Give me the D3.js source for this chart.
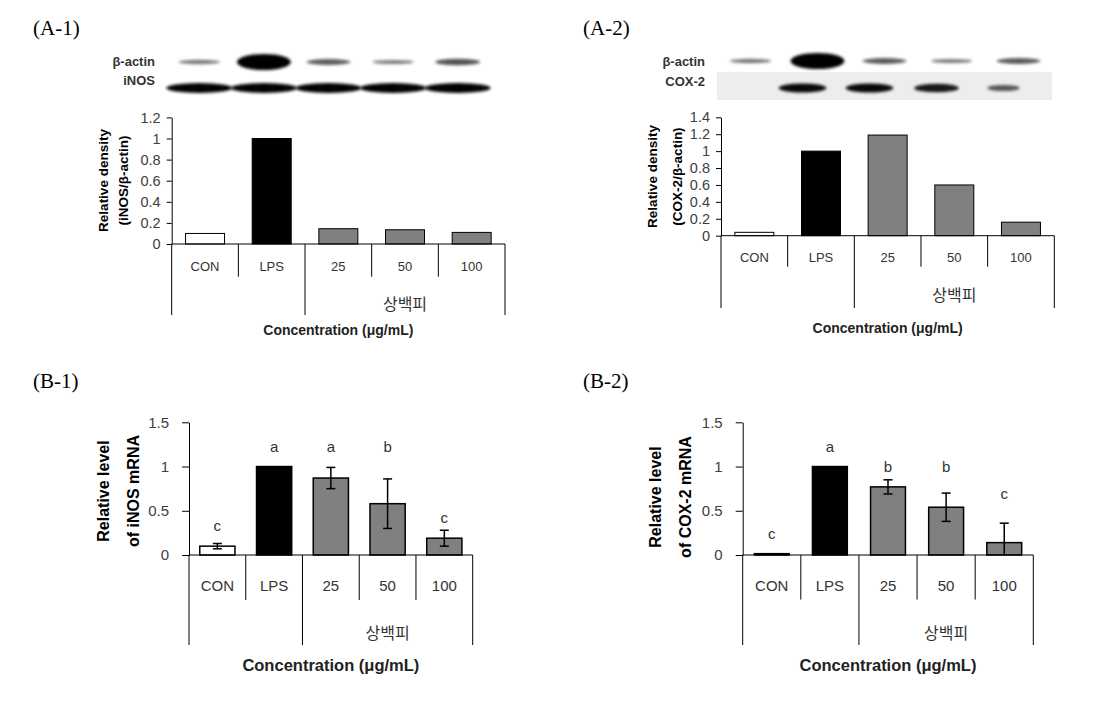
<!DOCTYPE html>
<html><head><meta charset="utf-8">
<script src="https://cdn.jsdelivr.net/npm/d3@7"></script>
<style>body{margin:0;background:#fff}svg{display:block}</style>
</head><body>
<svg id="c" width="1106" height="701"></svg>
<script>
// ---------- DATA ----------
const categories = ["CON","LPS","25","50","100"];
const groupLabel = "상백피";
const xTitleA = "Concentration (μg/mL)";
const xTitleB = "Concentration  (μg/mL)";

const a1Values = [0.10, 1.00, 0.145, 0.135, 0.11];
const a1Ticks  = [0, 0.2, 0.4, 0.6, 0.8, 1, 1.2];
const a2Values = [0.04, 1.00, 1.19, 0.60, 0.16];
const a2Ticks  = [0, 0.2, 0.4, 0.6, 0.8, 1, 1.2, 1.4];

const b1Values  = [0.10, 1.00, 0.87, 0.58, 0.19];
const b1Errors  = [0.03, 0, 0.12, 0.28, 0.09];
const b1Letters = ["c","a","a","b","c"];
const b1LetterAt= [0.33, 1.23, 1.23, 1.23, 0.42];
const b2Values  = [0.015, 1.00, 0.77, 0.54, 0.14];
const b2Errors  = [0, 0, 0.08, 0.16, 0.22];
const b2Letters = ["c","a","b","b","c"];
const b2LetterAt= [0.245, 1.23, 1.0, 1.0, 0.69];
const bTicks = [0, 0.5, 1, 1.5];

// blot band intensities (0 = no band)
const a1BlotTop    = [0.30, 1.00, 0.45, 0.28, 0.50];
const a1BlotBottom = [0.92, 0.92, 0.92, 0.92, 0.92];
const a2BlotTop    = [0.30, 1.00, 0.45, 0.28, 0.45];
const a2BlotBottom = [0, 0.88, 0.88, 0.80, 0.45];

const fillColors = ["#ffffff","#000000","#808080","#808080","#808080"];

// ---------- DRAW ----------
const svg = d3.select("#c");
const defs = svg.append("defs");
defs.append("filter").attr("id","blur").attr("x","-50%").attr("y","-100%").attr("width","200%").attr("height","300%")
  .append("feGaussianBlur").attr("stdDeviation",1.6);

const sans = "'Liberation Sans', Arial, sans-serif";
const kr = "'Noto Sans CJK KR', sans-serif";
const serif = "'Liberation Serif', 'DejaVu Serif', serif";

function panelTitle(t,x,y){
  svg.append("text").attr("x",x).attr("y",y).attr("font-family",serif).attr("font-size",21)
    .attr("dominant-baseline","central").attr("fill","#000").text(t);
}
panelTitle("(A-1)",33,28);
panelTitle("(A-2)",583,28);
panelTitle("(B-1)",33,381);
panelTitle("(B-2)",583,381);

function drawBlot(cfg){
  const g = svg.append("g");
  const x = d3.scaleBand().domain(categories).range([cfg.x0,cfg.x1]);
  if (cfg.bg) g.append("rect").attr("x",cfg.x0).attr("y",cfg.bg[0]).attr("width",cfg.x1-cfg.x0)
      .attr("height",cfg.bg[1]-cfg.bg[0]).attr("fill","#ededed");
  cfg.rows.forEach(r=>{
    g.append("text").attr("x",cfg.labelX).attr("y",r.labelY).attr("text-anchor","end")
      .attr("dominant-baseline","central").attr("font-family",sans).attr("font-size",13)
      .attr("font-weight","bold").attr("fill","#333").text(r.label);
    g.selectAll(null).data(r.values.map((v,i)=>({v,c:categories[i]}))).enter()
      .filter(d=>d.v>0)
      .append("ellipse")
      .attr("cx",d=>x(d.c)+x.bandwidth()/2 + (r.dx||0))
      .attr("cy",r.y)
      .attr("rx",d=>r.rx(d.v))
      .attr("ry",d=>r.ry(d.v))
      .attr("fill","#000")
      .attr("opacity",d=>Math.min(1,0.3+0.75*d.v))
      .attr("filter","url(#blur)");
  });
}

drawBlot({x0:167,x1:490,labelX:155,rows:[
  {label:"β-actin",labelY:61,y:62,values:a1BlotTop,rx:v=>18+9*v,ry:v=>1.6+6.4*v*v},
  {label:"iNOS",labelY:80,y:88,values:a1BlotBottom,rx:v=>33,ry:v=>5}
]});
drawBlot({x0:717,x1:1052,labelX:705,bg:[72,100],rows:[
  {label:"β-actin",labelY:61,y:61,values:a2BlotTop,rx:v=>18+9*v,ry:v=>1.6+6.4*v*v},
  {label:"COX-2",labelY:81,y:88,dx:-15,values:a2BlotBottom,rx:v=>8+18*v,ry:v=>1.5+3.5*v}
]});

function drawBars(cfg){
  const g = svg.append("g");
  const x = d3.scaleBand().domain(categories).range([cfg.x0,cfg.x1]);
  const y = d3.scaleLinear().domain([0,cfg.ticks[cfg.ticks.length-1]]).range([cfg.y0,cfg.yTop]);
  const bw = x.bandwidth()*cfg.barFrac;
  g.selectAll(null).data(cfg.values.map((v,i)=>({v,c:categories[i],i}))).enter().append("rect")
    .attr("x",d=>x(d.c)+(x.bandwidth()-bw)/2)
    .attr("y",d=>y(d.v))
    .attr("width",bw)
    .attr("height",d=>y(0)-y(d.v))
    .attr("fill",d=>fillColors[d.i])
    .attr("stroke","#000").attr("stroke-width",cfg.barStroke);
  if (cfg.errors){
    const eb = cfg.values.map((v,i)=>({v,e:cfg.errors[i],c:categories[i]})).filter(d=>d.e>0);
    const cx = d=>x(d.c)+x.bandwidth()/2;
    g.selectAll(null).data(eb).enter().append("line")
      .attr("x1",cx).attr("x2",cx)
      .attr("y1",d=>y(d.v+d.e)).attr("y2",d=>y(Math.max(0,d.v-d.e)))
      .attr("stroke","#000").attr("stroke-width",1.5);
    [1,-1].forEach(s=>{
      g.selectAll(null).data(eb.filter(d=>s>0 || d.v-d.e>0)).enter().append("line")
        .attr("x1",d=>cx(d)-4.5).attr("x2",d=>cx(d)+4.5)
        .attr("y1",d=>y(d.v+s*d.e)).attr("y2",d=>y(d.v+s*d.e))
        .attr("stroke","#000").attr("stroke-width",1.5);
    });
  }
  if (cfg.letters){
    g.selectAll(null).data(cfg.letters.map((t,i)=>({t,c:categories[i],at:cfg.letterAt[i]}))).enter().append("text")
      .attr("x",d=>x(d.c)+x.bandwidth()/2).attr("y",d=>y(d.at))
      .attr("text-anchor","middle").attr("dominant-baseline","central")
      .attr("font-family",sans).attr("font-size",cfg.catFont).attr("fill","#333").text(d=>d.t);
  }
  const ax = g.append("g").attr("transform",`translate(${cfg.x0},0)`)
    .call(d3.axisLeft(y).tickValues(cfg.ticks).tickSize(cfg.tickLen).tickPadding(cfg.tickPad)
      .tickFormat(d3.format("~g")).tickSizeOuter(0));
  ax.select(".domain").attr("stroke","#000");
  ax.selectAll(".tick line").attr("stroke","#000");
  ax.selectAll(".tick text").attr("font-family",sans).attr("font-size",cfg.tickFont).attr("fill","#404040");
  g.append("line").attr("x1",cfg.x0).attr("x2",cfg.x1).attr("y1",y(0)).attr("y2",y(0))
    .attr("stroke","#000").attr("stroke-width",1);
  const bounds = categories.map(c=>x(c)).concat([cfg.x1]);
  bounds.forEach((bx,i)=>{
    const long = (i===0 || i===2 || i===5);
    g.append("line").attr("x1",bx).attr("x2",bx).attr("y1",y(0)).attr("y2",long?cfg.longEnd:cfg.shortEnd)
      .attr("stroke","#000").attr("stroke-width",1);
  });
  g.selectAll(null).data(categories).enter().append("text")
    .attr("x",d=>x(d)+x.bandwidth()/2).attr("y",cfg.catY)
    .attr("text-anchor","middle").attr("dominant-baseline","central")
    .attr("font-family",sans).attr("font-size",cfg.catFont).attr("fill","#333").text(d=>d);
  g.append("text").attr("x",(x(categories[2])+cfg.x1)/2).attr("y",cfg.groupY)
    .attr("text-anchor","middle").attr("dominant-baseline","central")
    .attr("font-family",kr).attr("font-size",cfg.groupFont).attr("fill","#333").text(groupLabel);
  g.append("text").attr("x",(cfg.x0+cfg.x1)/2).attr("y",cfg.titleY)
    .attr("text-anchor","middle").attr("dominant-baseline","central")
    .attr("font-family",sans).attr("font-size",cfg.titleFont).attr("font-weight","bold").attr("fill","#222")
    .text(cfg.xTitle);
  cfg.yTitle.forEach((t,i)=>{
    g.append("text").attr("transform",`translate(${cfg.yTitleX[i]},${cfg.yTitleY}) rotate(-90)`)
      .attr("text-anchor","middle").attr("dominant-baseline","central")
      .attr("font-family",sans).attr("font-size",cfg.yTitleFont).attr("font-weight","bold").attr("fill","#000")
      .text(t);
  });
}

drawBars({x0:171.7,x1:505,y0:244,yTop:117.4,ticks:a1Ticks,values:a1Values,barFrac:0.585,barStroke:1,
  tickLen:5,tickPad:6,tickFont:14.5,catFont:13,groupFont:16,titleFont:14,
  shortEnd:276.7,longEnd:315,catY:266,groupY:303,titleY:330,xTitle:xTitleA,
  yTitle:["Relative density","(iNOS/β-actin)"],yTitleX:[103,123],yTitleY:180.5,yTitleFont:13.5});
drawBars({x0:721,x1:1054.3,y0:235.7,yTop:117.3,ticks:a2Ticks,values:a2Values,barFrac:0.585,barStroke:1,
  tickLen:5,tickPad:6,tickFont:14.5,catFont:13,groupFont:16,titleFont:14,
  shortEnd:266.7,longEnd:308,catY:257.7,groupY:294,titleY:328,xTitle:xTitleA,
  yTitle:["Relative density","(COX-2/β-actin)"],yTitleX:[652,677],yTitleY:176.5,yTitleFont:13.5});
drawBars({x0:189,x1:472.7,y0:555,yTop:422.3,ticks:bTicks,values:b1Values,errors:b1Errors,
  letters:b1Letters,letterAt:b1LetterAt,barFrac:0.62,barStroke:1.5,
  tickLen:7,tickPad:13,tickFont:15,catFont:15,groupFont:16,titleFont:16.5,
  shortEnd:600,longEnd:645,catY:585,groupY:631.5,titleY:665,xTitle:xTitleB,
  yTitle:["Relative level","of iNOS mRNA"],yTitleX:[103,133],yTitleY:491,yTitleFont:16});
drawBars({x0:742.7,x1:1033.3,y0:555,yTop:422.3,ticks:bTicks,values:b2Values,errors:b2Errors,
  letters:b2Letters,letterAt:b2LetterAt,barFrac:0.6,barStroke:1.5,
  tickLen:7,tickPad:13,tickFont:15,catFont:15,groupFont:16,titleFont:16.5,
  shortEnd:599.5,longEnd:645,catY:585,groupY:631.5,titleY:665,xTitle:xTitleB,
  yTitle:["Relative level","of COX-2 mRNA"],yTitleX:[655,685],yTitleY:497,yTitleFont:16});
</script>
</body></html>
